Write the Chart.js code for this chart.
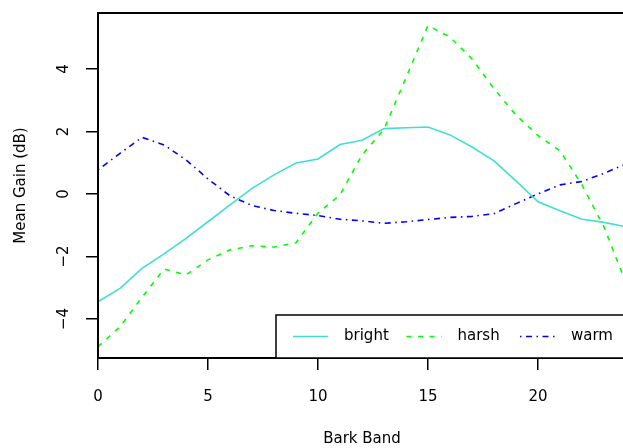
<!DOCTYPE html>
<html>
<head>
<meta charset="utf-8">
<script src="https://cdn.jsdelivr.net/npm/chart.js@4"></script>
<style>
  body { margin: 0; overflow: hidden; background: #fff; }
  #wrap { width: 650px; height: 448px; }
</style>
</head>
<body>
<div id="wrap"><canvas id="myChart" width="650" height="448"></canvas></div>
<script>
// Bark bands and mean gains (dB)
const bands = [0, 1, 2, 3, 4, 5, 6, 7, 8, 9, 10, 11, 12, 13, 14, 15, 16, 17, 18, 19, 20, 21, 22, 23, 24];
const bright = [-3.45, -3.02, -2.38, -1.92, -1.42, -0.89, -0.35, 0.18, 0.61, 0.99, 1.12, 1.58, 1.72, 2.09, 2.12, 2.14, 1.89, 1.50, 1.06, 0.42, -0.25, -0.54, -0.81, -0.91, -1.05];
const harsh = [-4.89, -4.25, -3.31, -2.40, -2.59, -2.11, -1.79, -1.66, -1.70, -1.56, -0.61, -0.03, 1.25, 2.07, 3.72, 5.39, 5.02, 4.32, 3.37, 2.52, 1.87, 1.38, 0.29, -1.06, -2.85];
const warm = [0.77, 1.30, 1.81, 1.57, 1.09, 0.48, -0.06, -0.37, -0.53, -0.62, -0.69, -0.81, -0.86, -0.94, -0.89, -0.82, -0.75, -0.72, -0.63, -0.31, 0.00, 0.29, 0.40, 0.66, 0.96];
const xTicks = [0, 5, 10, 15, 20];
const yTicks = [-4, -2, 0, 2, 4];

const FONT = '"DejaVu Sans", sans-serif';

function pts(vals) {
    return bands.map(function(b, i) { return { x: b, y: vals[i] }; });
}

// box around the plot, rotated y labels and the legend (R style)
const rStyle = {
    id: 'rStyle',
    afterDraw: function(chart) {
        const ctx = chart.ctx;
        const a = chart.chartArea;
        const yScale = chart.scales.y;
        ctx.save();
        ctx.strokeStyle = '#000';
        ctx.lineWidth = 2;
        ctx.strokeRect(a.left, a.top, a.right - a.left, a.bottom - a.top);

        // y tick labels, rotated like R's default
        ctx.fillStyle = '#000';
        ctx.font = '15px ' + FONT;
        ctx.textAlign = 'center';
        ctx.textBaseline = 'middle';
        yScale.ticks.forEach(function(t) {
            const y = yScale.getPixelForValue(t.value);
            ctx.save();
            ctx.translate(64, y);
            ctx.rotate(-Math.PI / 2);
            ctx.fillText(t.value < 0 ? '\u2212' + Math.abs(t.value) : String(t.value), 0, 0);
            ctx.restore();
        });

        // legend at bottom right
        const lx = 276, ly = 315;
        ctx.fillStyle = '#fff';
        ctx.fillRect(lx, ly, a.right - lx, a.bottom - ly);
        ctx.lineWidth = 1.5;
        ctx.strokeRect(lx, ly, a.right - lx, a.bottom - ly);
        const cy = (ly + a.bottom) / 2;
        chart.data.datasets.forEach(function(ds, i) {
            const sx = lx + 17 + i * 113.5;
            ctx.strokeStyle = ds.borderColor;
            ctx.lineWidth = ds.borderWidth;
            ctx.setLineDash(ds.borderDash || []);
            ctx.beginPath();
            ctx.moveTo(sx, cy);
            ctx.lineTo(sx + 35, cy);
            ctx.stroke();
            ctx.setLineDash([]);
            ctx.fillStyle = '#000';
            ctx.textAlign = 'left';
            ctx.fillText(ds.label, sx + 51, cy);
        });
        ctx.restore();
    }
};

const ctx = document.getElementById('myChart').getContext('2d');
const myChart = new Chart(ctx, {
    type: 'line',
    data: {
        datasets: [{
            label: 'bright',
            data: pts(bright),
            borderColor: '#40E0D0',
            borderWidth: 1.6,
            pointRadius: 0,
            tension: 0
        }, {
            label: 'harsh',
            data: pts(harsh),
            borderColor: '#00FF00',
            borderWidth: 1.6,
            borderDash: [5, 6.5],
            pointRadius: 0,
            tension: 0
        }, {
            label: 'warm',
            data: pts(warm),
            borderColor: '#0000FF',
            borderWidth: 1.6,
            borderDash: [1.5, 4.5, 6, 4.5],
            pointRadius: 0,
            tension: 0
        }]
    },
    options: {
        responsive: false,
        animation: false,
        layout: { padding: { top: 13, right: 24, left: 0, bottom: 0 } },
        plugins: {
            legend: { display: false },
            tooltip: { enabled: false }
        },
        scales: {
            x: {
                type: 'linear',
                min: 0,
                max: 24,
                afterFit: function(s) { s.height = 90; },
                afterBuildTicks: function(s) { s.ticks = xTicks.map(function(v) { return { value: v }; }); },
                grid: { drawOnChartArea: false, drawTicks: true, tickLength: 12, tickColor: '#000', lineWidth: 1.5 },
                border: { display: false },
                ticks: { color: '#000', font: { family: FONT, size: 15 }, padding: 18, maxRotation: 0 },
                title: { display: true, text: 'Bark Band', color: '#000', font: { family: FONT, size: 15 }, padding: { top: 0, bottom: 0 } }
            },
            y: {
                type: 'linear',
                min: -5.25,
                max: 5.79,
                afterFit: function(s) { s.width = 98; },
                afterBuildTicks: function(s) { s.ticks = yTicks.map(function(v) { return { value: v }; }); },
                grid: { drawOnChartArea: false, drawTicks: true, tickLength: 12, tickColor: '#000', lineWidth: 1.5 },
                border: { display: false },
                ticks: { display: false },
                title: { display: true, text: 'Mean Gain (dB)', color: '#000', font: { family: FONT, size: 15 }, padding: { top: 12, bottom: 0 } }
            }
        }
    },
    plugins: [rStyle]
});
</script>
</body>
</html>
